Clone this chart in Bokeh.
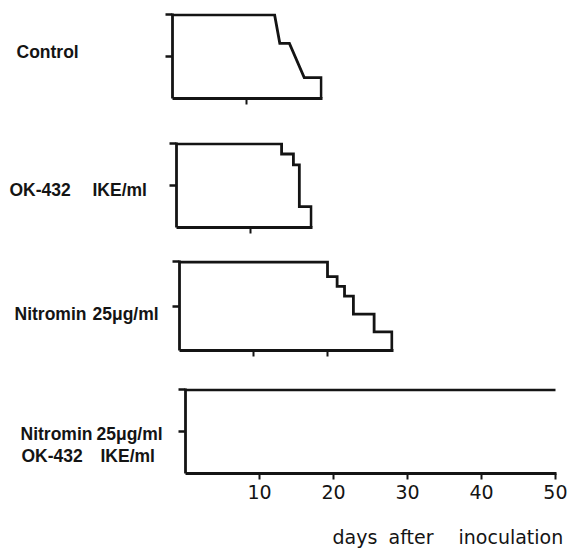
from bokeh.plotting import figure
from bokeh.layouts import column, row
from bokeh.models import Range1d, FixedTicker
from bokeh.core.properties import value
from bokeh.embed import file_html
from bokeh.resources import INLINE

# Survival (fraction alive) against days after inoculation, one series per group
control_days = [0, 13.8, 14.5, 15.8, 17.8, 20.1, 20.1]
control_surv = [1, 1, 0.66, 0.66, 0.25, 0.25, 0]

ok432_days = [0, 14.2, 14.2, 15.8, 15.8, 16.6, 16.6, 18.2, 18.2]
ok432_surv = [1, 1, 0.88, 0.88, 0.75, 0.75, 0.25, 0.25, 0]

nitromin_days = [0, 20.0, 20.0, 21.3, 21.3, 22.3, 22.3, 23.5, 23.5, 26.3, 26.3, 28.7, 28.7]
nitromin_surv = [1, 1, 0.835, 0.835, 0.725, 0.725, 0.615, 0.615, 0.41, 0.41, 0.21, 0.21, 0]

combined_days = [0, 50]
combined_surv = [1, 1]

x_tick_values = [10, 20, 30, 40, 50]
x_axis_words = ["days", "after", "inoculation"]

INK = "#141414"
PX_PER_DAY = 7.4
WIDTH = 567
GAP = 20            # margin kept beside each survival frame for its y axis
LABEL_FONT = "Liberation Sans"
TICK_FONT = "DejaVu Sans"


def blank(width, height):
    f = figure(width=width, height=height, output_backend="svg", toolbar_location=None,
               x_range=Range1d(0, width), y_range=Range1d(height, 0),
               x_axis_location=None, y_axis_location=None, min_border=0)
    f.frame_align = False
    f.outline_line_color = None
    f.grid.visible = False
    f.background_fill_color = "white"
    f.border_fill_color = "white"
    return f


def text_block(width, height, page_top, texts):
    """Free text in page pixels, drawn on an axis-less canvas."""
    f = blank(width, height)
    for txt, px, py, size, font, style in texts:
        f.text(x=[px], y=[py - page_top], text=[txt], text_font=value(font),
               text_font_size=value(size), text_font_style=value(style), text_color=INK,
               text_align="left", text_baseline="middle")
    return f


def survival(days, surv, left, height, top, frame_h, bottom, ticks, labelled):
    width = WIDTH - (left - GAP)
    frame_w = int(round((max(days) + 0.2) * PX_PER_DAY))
    p = figure(width=width, height=height, output_backend="svg", toolbar_location=None,
               x_range=Range1d(0, frame_w / PX_PER_DAY),
               y_range=Range1d(0, 1 + 1.5 / frame_h),
               min_border_left=GAP, min_border_right=width - GAP - frame_w,
               min_border_top=top, min_border_bottom=bottom)
    p.frame_align = False
    p.outline_line_color = None
    p.grid.visible = False
    p.background_fill_color = "white"
    p.border_fill_color = "white"

    p.line(days, surv, line_color=INK, line_width=2.8, line_join="miter")

    xa = p.xaxis[0]
    xa.ticker = FixedTicker(ticks=ticks)
    xa.minor_tick_line_color = None
    xa.major_tick_in = 0
    xa.major_tick_out = 6
    xa.major_tick_line_width = 2
    xa.major_tick_line_color = INK
    xa.axis_line_width = 2.8
    xa.axis_line_color = INK
    if labelled:
        xa.major_label_text_font = TICK_FONT
        xa.major_label_text_font_size = "19px"
        xa.major_label_text_color = INK
        xa.major_label_standoff = 5
    else:
        xa.major_label_overrides = {t: "" for t in ticks}
        xa.major_label_standoff = 0

    ya = p.yaxis[0]
    ya.ticker = FixedTicker(ticks=[0.5, 1.0])
    ya.major_label_overrides = {0.5: "", 1.0: ""}
    ya.major_label_standoff = 0
    ya.minor_tick_line_color = None
    ya.major_tick_in = 0
    ya.major_tick_out = 7
    ya.major_tick_line_width = 2.4
    ya.major_tick_line_color = INK
    ya.axis_line_width = 2.8
    ya.axis_line_color = INK
    return p


def group(txt, px, py):
    return (txt, px, py, "17.5px", LABEL_FONT, "bold")


def panel_row(page_top, left, height, top, frame_h, bottom, days, surv, ticks, labelled, texts):
    names = text_block(left - GAP, height, page_top, texts)
    plot = survival(days, surv, left, height, top, frame_h, bottom, ticks, labelled)
    return row(names, plot, spacing=0)


r1 = panel_row(0, 172, 120, 13, 85, 22, control_days, control_surv, [10], False,
               [group("Control", 16, 51)])
r2 = panel_row(120, 176, 125, 22, 85, 18, ok432_days, ok432_surv, [10], False,
               [group("OK-432", 9, 189), group("IKE/ml", 92, 189)])
r3 = panel_row(245, 179, 125, 15, 90, 20, nitromin_days, nitromin_surv, [10, 20], False,
               [group("Nitromin", 14, 313), group("25\u03bcg/ml", 92, 313)])
r4 = panel_row(370, 185, 140, 18, 85, 37, combined_days, combined_surv, x_tick_values, True,
               [group("Nitromin", 20, 433), group("25\u03bcg/ml", 96, 433),
                group("OK-432", 21, 455), group("IKE/ml", 100, 455)])

word_x = [332, 388, 458]
axis_title = text_block(WIDTH, 38, 510,
                        [(w, wx, 536, "19px", TICK_FONT, "normal") for w, wx in zip(x_axis_words, word_x)])

layout = column(r1, r2, r3, r4, axis_title, spacing=0)
open("out.html", "w").write(file_html(layout, INLINE))
